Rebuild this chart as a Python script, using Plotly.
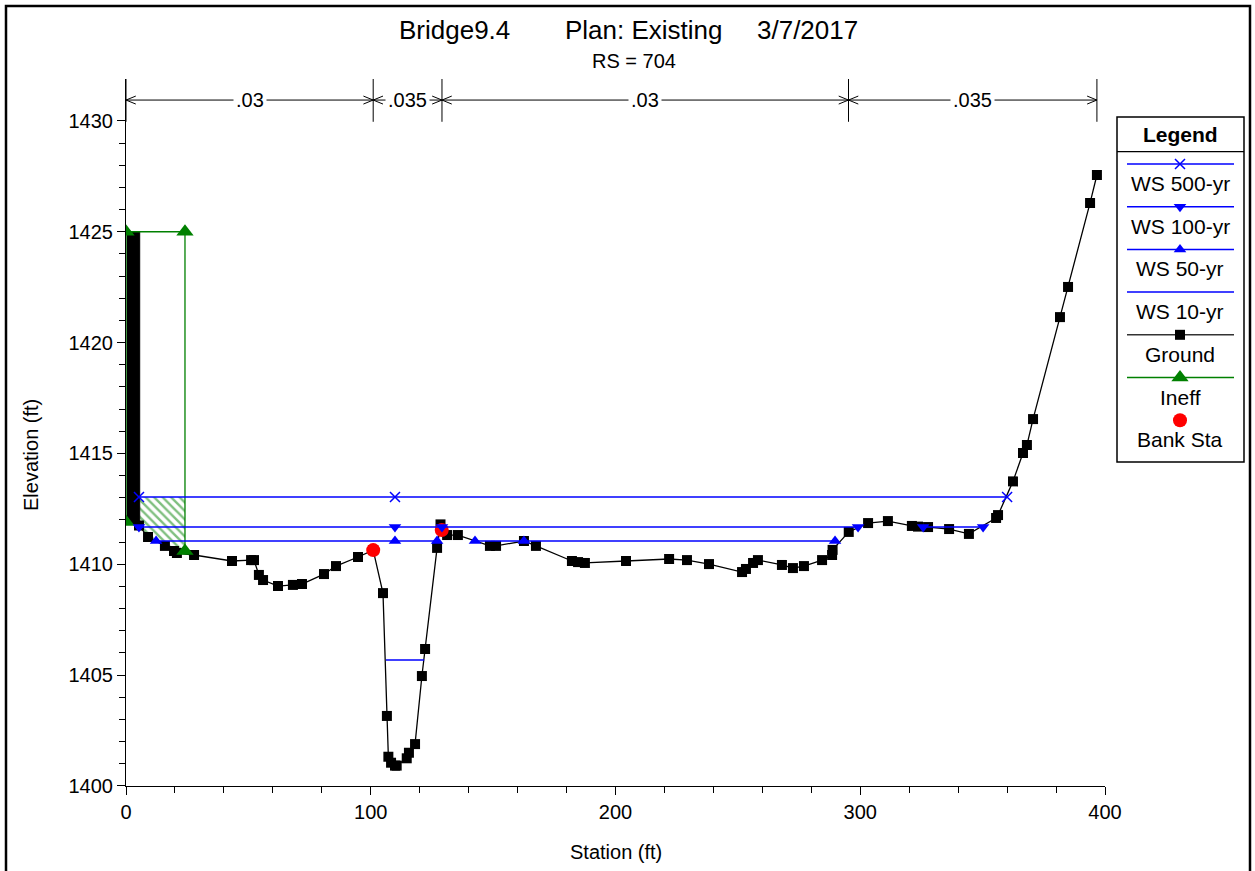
import plotly.graph_objects as go
import numpy as np

# ---------------- data ----------------
ground_sta = [5.3, 9.0, 15.9, 19.6, 20.8, 27.8, 43.3, 51.1, 52.3, 54.3, 56.0, 62.1, 68.2, 71.9,
              80.9, 85.8, 94.8, 101.0, 105.0, 106.6, 107.2, 108.3, 109.9, 110.6, 114.7, 115.6,
              118.1, 120.9, 122.2, 127.1, 128.5, 131.2, 135.6, 148.7, 151.2, 162.6, 167.5,
              182.2, 184.7, 187.5, 204.3, 221.9, 229.2, 238.2, 251.7, 253.3, 256.2, 258.2,
              268.0, 272.5, 277.0, 284.4, 288.5, 288.7, 295.3, 303.2, 311.3, 321.1, 323.6,
              327.7, 336.3, 344.4, 355.5, 356.3, 362.4, 366.5, 368.1, 370.6, 381.6, 384.9,
              393.9, 396.7]
ground_elev = [1411.75, 1411.23, 1410.83, 1410.60, 1410.51, 1410.42, 1410.15, 1410.19, 1410.19,
               1409.52, 1409.29, 1409.02, 1409.07, 1409.11, 1409.56, 1409.92, 1410.33, 1410.64,
               1408.70, 1403.16, 1401.32, 1401.05, 1400.92, 1400.92, 1401.25, 1401.50, 1401.89,
               1404.96, 1406.18, 1410.74, 1411.80, 1411.32, 1411.32, 1410.83, 1410.83, 1411.05,
               1410.83, 1410.15, 1410.10, 1410.06, 1410.15, 1410.24, 1410.19, 1410.01, 1409.65,
               1409.79, 1410.06, 1410.19, 1409.97, 1409.83, 1409.92, 1410.19, 1410.42, 1410.65,
               1411.46, 1411.86, 1411.95, 1411.73, 1411.70, 1411.68, 1411.59, 1411.37, 1412.09,
               1412.22, 1413.74, 1415.02, 1415.38, 1416.55, 1421.15, 1422.51, 1426.30, 1427.56]
wall_sta = [0.3, 5.6, 5.6, 0.3]
wall_elev = [1425.0, 1425.0, 1411.7, 1411.9]

bank_sta = [101.0, 129.0]
bank_elev = [1410.64, 1411.55]

ineff_sta = [0.0, 0.0, 24.1, 24.1]
ineff_elev = [1411.91, 1425.0, 1425.0, 1410.6]

ws500_sta = [5.3, 109.9, 360.0]
ws500_elev = 1413.04
ws100_sta = [5.3, 109.9, 129.1, 299.1, None, 325.7, 350.2]
ws100_elev = 1411.68
ws50_sta = [12.3, 109.9, 127.1, None, 142.6, 162.6, 289.7]
ws50_elev = 1411.05
ws10_sta = [106.2, 121.8]
ws10_elev = 1405.68

n_bounds = [0.0, 101.0, 129.1, 295.2, 396.7]
n_values = [".03", ".035", ".03", ".035"]
n_elev = 1430.94

x_ticks = [0, 100, 200, 300, 400]
y_ticks = [1400, 1405, 1410, 1415, 1420, 1425, 1430]

title_parts = ["Bridge9.4", "Plan: Existing", "3/7/2017"]
subtitle = "RS = 704"

# ---------------- layout helpers ----------------
W, H = 1255, 871
FONT = "Liberation Sans, Arial, sans-serif"
BLUE = "#0000ff"
GREEN = "#008000"
RED = "#ff0000"


def pxx(p):
    return p / W


def pxy(p):
    return 1 - p / H


fig = go.Figure()


def elev_list(sta, e):
    return [None if s is None else e for s in sta]


# ineffective hatched area (under WS 500 between wall and ineff limit)
gx = np.array(ground_sta)
gy = np.array(ground_elev)
mask = (gx > wall_sta[1]) & (gx < ineff_sta[2])
hatch_x = [wall_sta[1], ineff_sta[2], ineff_sta[2]] + list(gx[mask][::-1]) + [wall_sta[1]]
hatch_y = [ws500_elev, ws500_elev, float(np.interp(ineff_sta[2], gx, gy))] + list(gy[mask][::-1]) + \
          [float(np.interp(wall_sta[1], gx, gy))]
fig.add_trace(go.Scatter(x=hatch_x, y=hatch_y, mode="lines", fill="toself",
                         fillcolor="rgba(0,0,0,0)",
                         fillpattern=dict(shape="\\", fgcolor=GREEN, bgcolor="rgba(0,0,0,0)",
                                          size=6, solidity=0.4),
                         line=dict(width=0), hoverinfo="skip", showlegend=False))

# ground wall (solid block)
fig.add_trace(go.Scatter(x=wall_sta, y=wall_elev, mode="lines", fill="toself",
                         fillcolor="black", line=dict(color="black", width=1),
                         showlegend=False))
# ground
fig.add_trace(go.Scatter(x=ground_sta, y=ground_elev, mode="lines+markers",
                         line=dict(color="black", width=1.3),
                         marker=dict(symbol="square", size=10, color="black"),
                         showlegend=False))
# ineffective
fig.add_trace(go.Scatter(x=ineff_sta, y=ineff_elev, mode="lines+markers",
                         line=dict(color=GREEN, width=1.3),
                         marker=dict(symbol="triangle-up", size=15, color=GREEN),
                         showlegend=False))
# bank stations
fig.add_trace(go.Scatter(x=bank_sta, y=bank_elev, mode="markers",
                         marker=dict(symbol="circle", size=14, color=RED),
                         showlegend=False))
# water surfaces
fig.add_trace(go.Scatter(x=ws10_sta, y=elev_list(ws10_sta, ws10_elev), mode="lines",
                         line=dict(color=BLUE, width=1.5), showlegend=False))
fig.add_trace(go.Scatter(x=ws50_sta, y=elev_list(ws50_sta, ws50_elev), mode="lines+markers",
                         line=dict(color=BLUE, width=1.5),
                         marker=dict(symbol="triangle-up", size=11, color=BLUE),
                         connectgaps=False, showlegend=False))
fig.add_trace(go.Scatter(x=ws100_sta, y=elev_list(ws100_sta, ws100_elev), mode="lines+markers",
                         line=dict(color=BLUE, width=1.5),
                         marker=dict(symbol="triangle-down", size=11, color=BLUE),
                         connectgaps=False, showlegend=False))
fig.add_trace(go.Scatter(x=ws500_sta, y=elev_list(ws500_sta, ws500_elev), mode="lines+markers",
                         line=dict(color=BLUE, width=1.5),
                         marker=dict(symbol="x-thin", size=10, color=BLUE,
                                     line=dict(color=BLUE, width=1.5)),
                         showlegend=False))

# Manning's n bar
nx, ny = [], []
for b in n_bounds:
    nx += [b, b, None]
    ny += [1429.96, 1431.89, None]
dx, dy = 4.0, 0.18
for a, b in zip(n_bounds[:-1], n_bounds[1:]):
    nx += [a, b, None]
    ny += [n_elev, n_elev, None]
    nx += [a + dx, a, a + dx, None, b - dx, b, b - dx, None]
    ny += [n_elev + dy, n_elev, n_elev - dy, None, n_elev + dy, n_elev, n_elev - dy, None]
fig.add_trace(go.Scatter(x=nx, y=ny, mode="lines", line=dict(color="black", width=1),
                         showlegend=False, cliponaxis=False))
for a, b, v in zip(n_bounds[:-1], n_bounds[1:], n_values):
    fig.add_annotation(x=(a + b) / 2, y=n_elev, text=v, showarrow=False, xref="x", yref="y",
                       xanchor="center", yanchor="middle",
                       font=dict(family=FONT, size=20, color="black"),
                       bgcolor="white", borderpad=2)

# ---------------- legend (drawn on a helper axis in pixel units) ----------------
LX0, LX1, LY0, LY1 = 1117, 1244, 117, 462
leg_items = [
    ("WS 500-yr", BLUE, "x-thin", 10),
    ("WS 100-yr", BLUE, "triangle-down", 11),
    ("WS 50-yr", BLUE, "triangle-up", 11),
    ("WS 10-yr", BLUE, None, 0),
    ("Ground", "#333333", "square", 10),
    ("Ineff", GREEN, "triangle-up", 15),
    ("Bank Sta", None, "circle", 14),
]
line_y0, step = 164.0, 42.7
for i, (name, col, sym, size) in enumerate(leg_items):
    yl = line_y0 + i * step
    if col is not None:
        fig.add_trace(go.Scatter(x=[1127, 1234], y=[yl, yl], mode="lines",
                                 line=dict(color=col, width=1.5),
                                 xaxis="x2", yaxis="y2", showlegend=False, hoverinfo="skip"))
    if sym is not None:
        mcol = {"Ground": "black", "Bank Sta": RED}.get(name, col)
        fig.add_trace(go.Scatter(x=[1180], y=[yl], mode="markers",
                                 marker=dict(symbol=sym, size=size, color=mcol,
                                             line=dict(color=mcol, width=1.5 if sym == "x-thin" else 0)),
                                 xaxis="x2", yaxis="y2", showlegend=False, hoverinfo="skip"))
    fig.add_annotation(x=1180, y=yl + 19.5, xref="x2", yref="y2", text=name, showarrow=False,
                       xanchor="center", yanchor="middle",
                       font=dict(family=FONT, size=21, color="black"))
fig.add_annotation(x=1180, y=134, xref="x2", yref="y2", text="<b>Legend</b>", showarrow=False,
                   xanchor="center", yanchor="middle",
                   font=dict(family=FONT, size=21, color="black"))
fig.add_shape(type="rect", xref="x2", yref="y2", x0=LX0, x1=LX1, y0=LY0, y1=LY1,
              line=dict(color="black", width=1.5))
fig.add_shape(type="line", xref="x2", yref="y2", x0=LX0, x1=LX1, y0=151.7, y1=151.7,
              line=dict(color="black", width=1.2))

# outer frame
fig.add_shape(type="rect", xref="paper", yref="paper", x0=pxx(6), x1=pxx(1250),
              y0=pxy(875), y1=pxy(6), line=dict(color="black", width=2.5))

# titles
title_centres = [454, 644, 807]
for t, cx in zip(title_parts, title_centres):
    fig.add_annotation(x=pxx(cx), y=pxy(30), xref="paper", yref="paper", text=t,
                       xanchor="center", yanchor="middle",
                       showarrow=False, font=dict(family=FONT, size=26, color="black"))
fig.add_annotation(x=pxx(634), y=pxy(61), xref="paper", yref="paper", text=subtitle,
                   xanchor="center", yanchor="middle",
                   showarrow=False, font=dict(family=FONT, size=20, color="black"))
fig.add_annotation(x=pxx(616), y=pxy(852), xref="paper", yref="paper", text="Station (ft)",
                   xanchor="center", yanchor="middle",
                   showarrow=False, font=dict(family=FONT, size=20, color="black"))
fig.add_annotation(x=pxx(31), y=pxy(455), xref="paper", yref="paper", text="Elevation (ft)",
                   xanchor="center", yanchor="middle",
                   showarrow=False, textangle=-90, font=dict(family=FONT, size=20, color="black"))

Y_TOP = 1431.9
fig.update_layout(
    width=W, height=H, margin=dict(l=0, r=0, t=0, b=0, pad=0, autoexpand=False),
    paper_bgcolor="white", plot_bgcolor="white", showlegend=False,
    font=dict(family=FONT, size=20, color="black"),
    xaxis=dict(domain=[pxx(126), pxx(1105)], range=[0, 400], tickvals=x_ticks,
               ticks="outside", ticklen=8, tickwidth=1, tickcolor="black", automargin=False,
               showline=True, linecolor="black", linewidth=1, showgrid=False, zeroline=False,
               tickfont=dict(family=FONT, size=20, color="black"),
               minor=dict(tickmode="array", tickvals=[v for v in range(20, 400, 20) if v % 100],
                          ticks="outside", ticklen=6, tickcolor="black", showgrid=False),
               anchor="y"),
    yaxis=dict(domain=[pxy(786), pxy(786 - (Y_TOP - 1400) * 22.17)], range=[1400, Y_TOP],
               tickvals=y_ticks, ticks="outside", ticklen=8, tickwidth=1, tickcolor="black",
               showline=True, linecolor="black", linewidth=1, showgrid=False, zeroline=False,
               automargin=False,
               tickfont=dict(family=FONT, size=20, color="black"),
               minor=dict(tickmode="array", tickvals=[v for v in range(1401, 1430) if v % 5],
                          ticks="outside", ticklen=6, tickcolor="black", showgrid=False),
               anchor="x"),
    xaxis2=dict(domain=[pxx(LX0 - 3), pxx(LX1 + 3)], range=[LX0 - 3, LX1 + 3], visible=False,
                anchor="y2", fixedrange=True, automargin=False),
    yaxis2=dict(domain=[pxy(LY1 + 3), pxy(LY0 - 3)], range=[LY1 + 3, LY0 - 3], visible=False,
                anchor="x2", fixedrange=True, automargin=False),
)

fig.write_html("out.html")
